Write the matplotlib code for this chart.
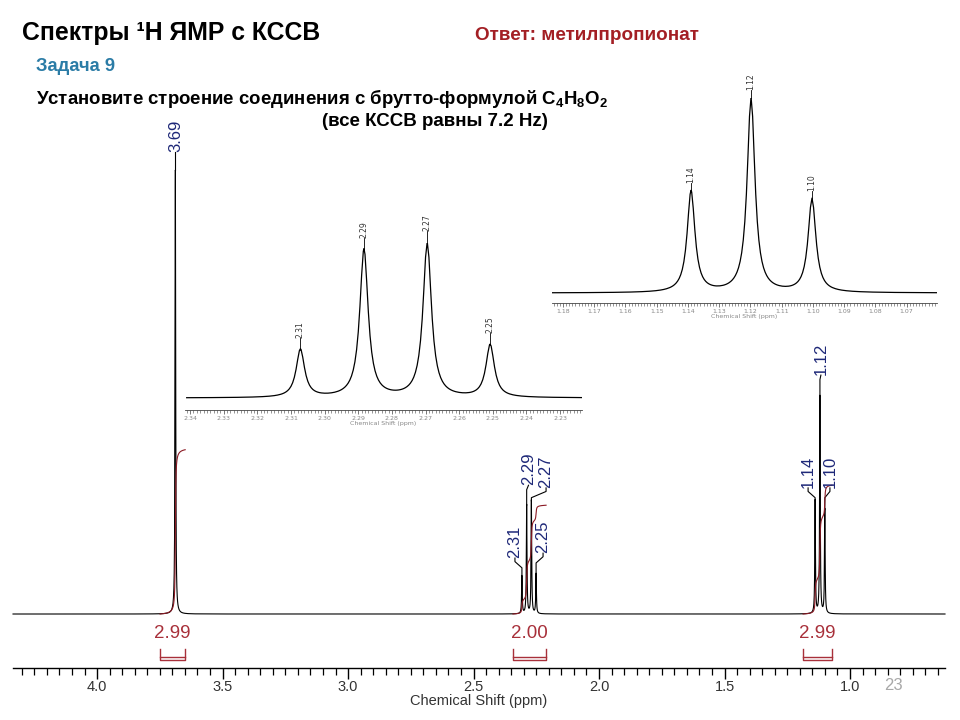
import numpy as np
import matplotlib
matplotlib.use('Agg')
import matplotlib.pyplot as plt
from matplotlib.ticker import MultipleLocator

# пики: положение (м.д.)
singlet_ppm = [3.688]
quartet_ppm = [2.3072, 2.2883, 2.2695, 2.2508]
triplet_ppm = [1.1390, 1.1198, 1.1003]

# основной спектр: высоты и подписи пиков
main_heights = [1.0, 0.085, 0.245, 0.255, 0.09, 0.255, 0.49, 0.235]
main_labels = ['3.69', '2.31', '2.29', '2.27', '2.25', '1.14', '1.12', '1.10']

# вставки
quartet_heights = [0.31, 0.955, 1.0, 0.34]
quartet_labels = ['2.31', '2.29', '2.27', '2.25']
triplet_heights = [0.52, 1.0, 0.48]
triplet_labels = ['1.14', '1.12', '1.10']

# интегралы
integral_start = [3.749, 2.343, 1.187]
integral_end = [3.649, 2.211, 1.072]
integral_values = ['2.99', '2.00', '2.99']
integral_height = [0.37, 0.245, 0.29]

gamma = 0.0015  # полуширина линии, м.д.

NAVY = '#1e2878'
RED = '#a8303a'
HEAD = ['Liberation Sans', 'DejaVu Sans']
ARIAL = ['Liberation Sans', 'DejaVu Sans']

plt.rcParams['mathtext.fontset'] = 'custom'
plt.rcParams['mathtext.rm'] = 'Liberation Sans:bold'
plt.rcParams['mathtext.bf'] = 'Liberation Sans:bold'
plt.rcParams['mathtext.it'] = 'Liberation Sans:bold'


def spectrum(x, centers, heights):
    y = np.zeros_like(x)
    for c, h in zip(centers, heights):
        y += h * gamma**2 / ((x - c)**2 + gamma**2)
    return y


all_ppm = singlet_ppm + quartet_ppm + triplet_ppm

fig = plt.figure(figsize=(9.6, 7.2), dpi=100)

# ---------- основной спектр ----------
ax = fig.add_axes([13/960, 52/720, 932/960, 498/720])
x = np.union1d(np.arange(0.6215, 4.335, 0.0002), all_ppm)
y = spectrum(x, all_ppm, main_heights)
ax.plot(x, y, color='black', lw=0.8, clip_on=False)
ax.set_xlim(4.335, 0.6215)
ax.set_ylim(-0.1216, 1.0)

for sp in ['top', 'left', 'right']:
    ax.spines[sp].set_visible(False)
ax.spines['bottom'].set_linewidth(1.0)
ax.set_yticks([])
ax.xaxis.set_major_locator(MultipleLocator(0.5))
ax.xaxis.set_minor_locator(MultipleLocator(0.05))
ax.tick_params(axis='x', which='major', length=8, width=1.0, pad=0.5,
               labelsize=10.5, labelcolor='#333333')
ax.tick_params(axis='x', which='minor', length=5, width=0.9)
for t in ax.get_xticklabels():
    t.set_family(ARIAL)
ax.set_xlabel('Chemical Shift (ppm)', fontsize=10.5, family=ARIAL,
              color='#333333', labelpad=0)

# подписи пиков (x подписи, низ подписи)
label_pos = [(3.688, 1.04), (2.335, 0.126), (2.281, 0.29), (2.211, 0.284),
             (2.223, 0.137), (1.167, 0.284), (1.116, 0.538), (1.080, 0.284)]
for (lx, ly), px, h, lab in zip(label_pos, all_ppm, main_heights, main_labels):
    if abs(lx - px) < 0.01:
        ax.plot([lx, px, px], [ly, ly - 0.01, h], color='black', lw=0.8,
                clip_on=False)
    else:
        ax.plot([lx, lx, px, px], [ly, ly - 0.008, ly - 0.022, h],
                color='black', lw=0.8, clip_on=False)
    ax.text(lx, ly, lab, rotation=90, ha='center', va='bottom', fontsize=12,
            color=NAVY, family=ARIAL, clip_on=False)

# интегралы
for a, b, val, ih in zip(integral_start, integral_end, integral_values,
                         integral_height):
    xi = np.linspace(a, b, 800)
    cum = np.cumsum(spectrum(xi, all_ppm, main_heights))
    cum = (cum - cum[0]) / (cum[-1] - cum[0]) * ih
    ax.plot(xi, cum, color='#8b1a24', lw=0.8)
    ax.plot([a, a, b, b], [-0.0788, -0.1036, -0.1036, -0.0788], color=RED,
            lw=1.0)
    ax.plot([a, b], [-0.0968, -0.0968], color=RED, lw=1.0)
    ax.text((a + b) / 2, -0.045, val, ha='center', va='center',
            fontsize=13.5, color=RED, family=ARIAL)


# ---------- вставки ----------
def inset(rect, xlim, ylim, centers, heights, labels, gap, step):
    ai = fig.add_axes(rect)
    ai.set_facecolor('none')
    xx = np.union1d(np.arange(xlim[1], xlim[0], step), centers)
    ai.plot(xx, spectrum(xx, centers, heights), color='black', lw=0.9)
    ai.set_xlim(*xlim)
    ai.set_ylim(*ylim)
    for sp in ['top', 'left', 'right']:
        ai.spines[sp].set_visible(False)
    ai.spines['bottom'].set_linewidth(0.6)
    ai.spines['bottom'].set_color('#444444')
    ai.set_yticks([])
    ai.xaxis.set_major_locator(MultipleLocator(0.01))
    ai.xaxis.set_minor_locator(MultipleLocator(0.001))
    ai.tick_params(axis='x', which='major', length=3, width=0.5, pad=1,
                   labelsize=4.5, labelcolor='#888888', color='#444444')
    ai.tick_params(axis='x', which='minor', length=1.8, width=0.4,
                   color='#444444')
    ai.set_xlabel('Chemical Shift (ppm)', fontsize=4.5, color='#888888',
                  labelpad=0.5)
    for c, h, lab in zip(centers, heights, labels):
        ai.plot([c, c], [h, h + gap], color='black', lw=0.6, clip_on=False)
        ai.text(c, h + gap, lab, rotation=90, ha='center', va='bottom',
                fontsize=5.5, color='#333333', clip_on=False)
    return ai


inset([185/960, 310/720, 397/960, 167/720], (2.3415, 2.2235), (-0.0774, 1.0),
      quartet_ppm, quartet_heights, quartet_labels, 0.077, 0.0005)
inset([552/960, 417/720, 385/960, 205/720], (1.1835, 1.0603), (-0.0513, 1.0),
      triplet_ppm, triplet_heights, triplet_labels, 0.042, 0.0005)

# ---------- тексты слайда ----------
fig.text(22/960, 1 - 40/720, 'Спектры ¹H ЯМР с КССВ', fontsize=17.8,
         fontweight='bold', family=HEAD, va='baseline')
fig.text(475/960, 1 - 40/720, 'Ответ: метилпропионат', fontsize=13.6,
         fontweight='bold', family=HEAD, color='#a31f24', va='baseline')
fig.text(36/960, 1 - 71/720, 'Задача 9', fontsize=13.2, fontweight='bold',
         family=HEAD, color='#2b7ca6', va='baseline')
fig.text(36/960, 1 - 104/720,
         r'Установите строение соединения с брутто-формулой $\mathbf{C_4H_8O_2}$',
         fontsize=13.4, fontweight='bold', family=HEAD, va='baseline')
fig.text(322/960, 1 - 126/720, '(все КССВ равны 7.2 Hz)', fontsize=13.5,
         fontweight='bold', family=HEAD, va='baseline')
fig.text(893/960, 1 - 686/720, '23', fontsize=12, color='#a8a8a8',
         ha='center', va='center', family=ARIAL)

fig.savefig('out.png', dpi=100)
